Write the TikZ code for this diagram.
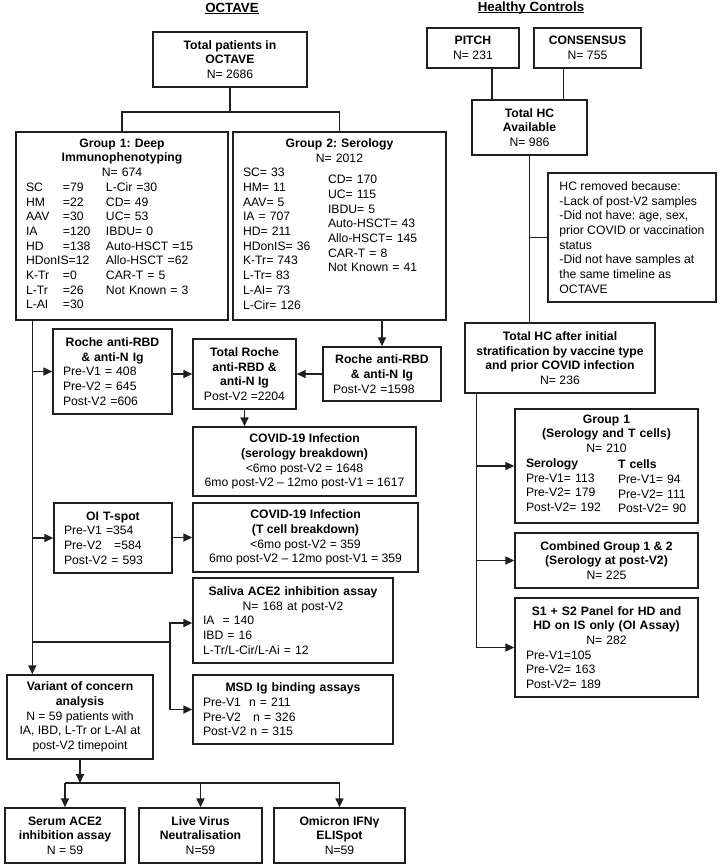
\documentclass[tikz,border=0pt]{standalone}
\usepackage{fontspec}
\setmainfont{Liberation Sans}
\usetikzlibrary{arrows.meta}
\frenchspacing
\newcommand{\ctr}[1]{\hspace*{\fill}\mbox{#1}\hspace*{\fill}\null}
\newcommand{\nm}[1]{\makebox[37pt][l]{#1}}
\newcommand{\ulbox}[1]{\setbox0\hbox{#1}\rlap{\rule[-2.2pt]{\wd0}{1.2pt}}\box0}
\begin{document}
\begin{tikzpicture}[x=1pt,y=-1pt,
  every node/.style={font=\fontsize{12.2}{14.7}\selectfont, text=black},
  box/.style={draw=black!88, line width=1.4pt, inner xsep=0pt, inner ysep=0pt, align=center},
  mix/.style={draw=black!88, line width=1.4pt, inner xsep=10pt, inner ysep=0pt, align=left},
  conn/.style={draw=black!88, line width=1.5pt},
  arr/.style={conn, -{Triangle[length=9pt 0 0,width=8pt 0 0]}},
  ttl/.style={font=\fontsize{13.3}{16}\selectfont\bfseries, anchor=base, inner sep=0pt}]
\fill[white] (0,0) rectangle (722,865);
\useasboundingbox (0,0) rectangle (722,865);

% titles
\node[ttl] (toct) at (232,12) {\ulbox{OCTAVE}};
\node[ttl] (thc) at (531,11) {\ulbox{Healthy Controls}};

% OCTAVE side
\node[box, minimum width=154pt, minimum height=55pt] (tot) at (230,59.5)
  {\textbf{Total patients in}\\\textbf{OCTAVE}\\N= 2686};

\node[mix, text width=192pt, minimum height=188pt] (g1) at (122,226) {%
\ctr{\textbf{Group 1: Deep}}\\
\ctr{\textbf{Immunophenotyping}}\\
\ctr{N= 674}\\
\makebox[80pt][l]{\begin{tabular}[t]{@{}l@{}}\nm{SC}=79\\\nm{HM}=22\\\nm{AAV}=30\\\nm{IA}=120\\\nm{HD}=138\\HDonIS=12\\\nm{K-Tr}=0\\\nm{L-Tr}=26\\\nm{L-AI}=30\end{tabular}}%
\begin{tabular}[t]{@{}l@{}}L-Cir =30\\CD= 49\\UC= 53\\IBDU= 0\\Auto-HSCT =15\\Allo-HSCT =62\\CAR-T = 5\\Not Known = 3\end{tabular}};

\node[mix, text width=193pt, minimum height=188pt] (g2) at (339.5,226) {%
\ctr{\textbf{Group 2: Serology}}\\
\ctr{N= 2012}\\
\makebox[85pt][l]{\begin{tabular}[t]{@{}l@{}}SC= 33\\HM= 11\\AAV= 5\\IA = 707\\HD= 211\\HDonIS= 36\\K-Tr= 743\\L-Tr= 83\\L-AI= 73\\L-Cir= 126\end{tabular}}%
\raisebox{-7pt}{\begin{tabular}[t]{@{}l@{}}CD= 170\\UC= 115\\IBDU= 5\\Auto-HSCT= 43\\Allo-HSCT= 145\\CAR-T = 8\\Not Known = 41\end{tabular}}};

\node[mix, text width=99pt, minimum height=85pt] (r1) at (112.5,371.5) {%
\ctr{\textbf{Roche anti-RBD}}\\\ctr{\textbf{\& anti-N Ig}}\\Pre-V1 = 408\\Pre-V2 = 645\\Post-V2 =606};

\node[box, minimum width=103pt, minimum height=70pt] (tr) at (244.5,374)
  {\textbf{Total Roche}\\\textbf{anti-RBD \&}\\\textbf{anti-N Ig}\\Post-V2 =2204};

\node[mix, text width=98pt, minimum height=54pt] (r2) at (382,374) {%
\ctr{\textbf{Roche anti-RBD}}\\\ctr{\textbf{\& anti-N Ig}}\\Post-V2 =1598};

\node[box, minimum width=223pt, minimum height=69pt] (cs) at (304.5,461.5)
  {\textbf{COVID-19 Infection}\\\textbf{(serology breakdown)}\\<6mo post-V2 = 1648\\6mo post-V2 -- 12mo post-V1 = 1617};

\node[mix, text width=98pt, minimum height=70pt] (oi) at (113,538) {%
\ctr{\textbf{OI T-spot}}\\Pre-V1 =354\\Pre-V2\ \ \ =584\\Post-V2 = 593};

\node[box, minimum width=225pt, minimum height=69pt] (ct) at (305.5,537.5)
  {\textbf{COVID-19 Infection}\\\textbf{(T cell breakdown)}\\<6mo post-V2 = 359\\6mo post-V2 -- 12mo post-V1 = 359};

\node[mix, text width=180pt, minimum height=85pt] (sal) at (293,620.5) {%
\ctr{\textbf{Saliva ACE2 inhibition assay}}\\\ctr{N= 168 at post-V2}\\IA\ \ = 140\\IBD = 16\\L-Tr/L-Cir/L-Ai = 12};

\node[mix, text width=180pt, minimum height=69pt] (msd) at (293,709.5) {%
\ctr{\textbf{MSD Ig binding assays}}\\Pre-V1\ \ n = 211\\Pre-V2\ \ \ n = 326\\Post-V2 n = 315};

\node[box, minimum width=146pt, minimum height=84pt] (var) at (80,717)
  {\textbf{Variant of concern}\\\textbf{analysis}\\N = 59 patients with\\IA, IBD, L-Tr or L-AI at\\post-V2 timepoint};

\node[box, minimum width=120pt, minimum height=55pt] (serum) at (65,835.5)
  {\textbf{Serum ACE2}\\\textbf{inhibition assay}\\N = 59};
\node[box, minimum width=123pt, minimum height=55pt] (live) at (200.5,835.5)
  {\textbf{Live Virus}\\\textbf{Neutralisation}\\N=59};
\node[box, minimum width=131pt, minimum height=55pt] (omi) at (339.5,835.5)
  {\textbf{Omicron IFNγ}\\\textbf{ELISpot}\\N=59};

% Healthy controls side
\node[box, minimum width=92pt, minimum height=40pt] (pitch) at (473,48) {\textbf{PITCH}\\N= 231};
\node[box, minimum width=107pt, minimum height=40pt] (cons) at (587.5,48) {\textbf{CONSENSUS}\\N= 755};
\node[box, minimum width=115pt, minimum height=55pt] (hctot) at (529.5,127.5)
  {\textbf{Total HC}\\\textbf{Available}\\N= 986};
\node[draw=black!88, line width=1.4pt, inner sep=0pt, align=left, minimum width=168pt, minimum height=129pt] (hcrem) at (632,237.5)
  {HC removed because:\\-Lack of post-V2 samples\\-Did not have: age, sex,\\prior COVID or vaccination\\status\\-Did not have samples at\\the same timeline as\\OCTAVE};
\node[box, minimum width=190pt, minimum height=70pt] (hcafter) at (560,358)
  {\textbf{Total HC after initial}\\\textbf{stratification by vaccine type}\\\textbf{and prior COVID infection}\\N= 236};
\node[mix, inner xsep=11pt, text width=161pt, minimum height=114pt] (hg1) at (606.5,466) {%
\ctr{\textbf{Group 1}}\\\ctr{\textbf{(Serology and T cells)}}\\\ctr{N= 210}\\
\makebox[92pt][l]{\begin{tabular}[t]{@{}l@{}}\textbf{Serology}\\Pre-V1= 113\\Pre-V2= 179\\Post-V2= 192\end{tabular}}%
\raisebox{-1.5pt}{\begin{tabular}[t]{@{}l@{}}\textbf{T cells}\\Pre-V1= 94\\Pre-V2= 111\\Post-V2= 90\end{tabular}}};
\node[box, minimum width=183pt, minimum height=55pt] (comb) at (606.5,560.5)
  {\textbf{Combined Group 1 \& 2}\\\textbf{(Serology at post-V2)}\\N= 225};
\node[mix, inner xsep=11pt, text width=161pt, minimum height=99pt] (s1) at (606.5,647.5) {%
\ctr{\textbf{S1 + S2 Panel for HD and}}\\\ctr{\textbf{HD on IS only (OI Assay)}}\\\ctr{N= 282}\\Pre-V1=105\\Pre-V2= 163\\Post-V2= 189};

% connectors OCTAVE
\coordinate (jt) at (230,112);
\draw[conn] (tot.south) -- (jt);
\draw[conn] (g1.north) |- (jt) -| (g2.north);
\coordinate (lv) at ([xshift=17pt]g1.south west);
\draw[arr] (lv) -- (lv |- var.north);
\draw[arr] (lv |- r1.west) -- (r1.west);
\draw[arr] (lv |- oi.west) -- (oi.west);
\draw[arr] (r1.east |- tr.west) -- (tr.west);
\draw[arr] (g2.south -| r2.north) -- (r2.north);
\draw[arr] (r2.west |- tr.east) -- (tr.east);
\draw[arr] (tr.south) -- (tr.south |- cs.north);
\draw[arr] (oi.east |- ct.west) -- (ct.west);
\coordinate (bx) at (170,642);
\draw[conn] (lv |- bx) -- (bx);
\draw[arr] (bx) |- ([yshift=-2.5pt]sal.west);
\draw[arr] (bx) |- (msd.west);
\coordinate (vj) at (80,783);
\draw[arr] (var.south) -- (vj);
\draw[conn] (vj -| serum.north) -- (vj -| omi.north);
\draw[arr] (vj -| serum.north) -- (serum.north);
\draw[arr] (vj -| live.north) -- (live.north);
\draw[arr] (vj -| omi.north) -- (omi.north);

% connectors HC
\draw[conn] ([xshift=19pt]pitch.south) -- ([xshift=19pt]pitch.south |- hctot.north);
\draw[conn] ([xshift=-24pt]cons.south) -- ([xshift=-24pt]cons.south |- hctot.north);
\draw[conn] (hctot.south) -- (hctot.south |- hcafter.north);
\draw[conn] (hctot.south |- hcrem.west) -- (hcrem.west);
\coordinate (hv) at ([xshift=12pt]hcafter.south west);
\draw[arr] (hv) |- (s1.west);
\draw[arr] (hv |- hg1.west) -- (hg1.west);
\draw[arr] (hv |- comb.west) -- (comb.west);
\end{tikzpicture}
\end{document}
